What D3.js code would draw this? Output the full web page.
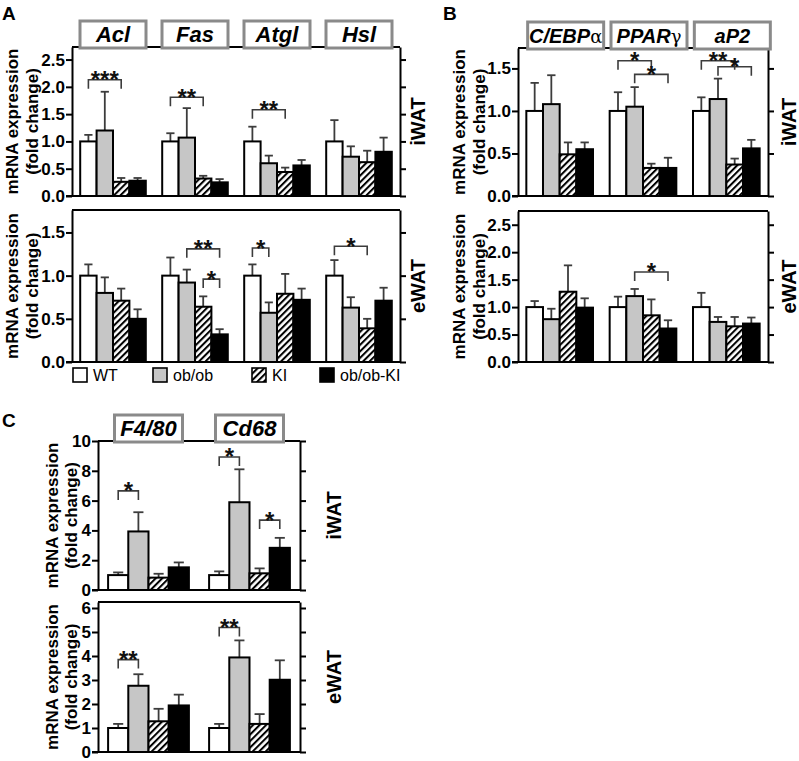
<!DOCTYPE html>
<html><head><meta charset="utf-8">
<script src="https://cdn.jsdelivr.net/npm/d3@7"></script>
<style>body{margin:0;background:#fff}svg{display:block;font-family:"Liberation Sans",Arial,sans-serif}</style>
</head><body>
<svg id="c" width="799" height="761"></svg>
<script>
// ---------------- DATA ----------------
const groups = ["WT", "ob/ob", "KI", "ob/ob-KI"];
const genesA = ["Acl", "Fas", "Atgl", "Hsl"];
const genesB = [["C/EBP", "α"], ["PPAR", "γ"], ["aP2", ""]];
const genesC = ["F4/80", "Cd68"];

const ticksAtop = [0, 0.5, 1.0, 1.5, 2.0, 2.5];
const ticksAbot = [0, 0.5, 1.0, 1.5];
const ticksBtop = [0, 0.5, 1.0, 1.5];
const ticksBbot = [0, 0.5, 1.0, 1.5, 2.0, 2.5];
const ticksCtop = [0, 2, 4, 6, 8, 10];
const ticksCbot = [0, 1, 2, 3, 4, 5, 6];

// means per gene: [WT, ob/ob, KI, ob/ob-KI]; err = top of error bar (mean + SEM)
const meanA_iWAT = [[1.00, 1.20, 0.26, 0.28], [1.00, 1.07, 0.32, 0.25], [1.00, 0.60, 0.44, 0.56], [1.00, 0.72, 0.62, 0.81]];
const errA_iWAT  = [[1.12, 1.91, 0.33, 0.33], [1.15, 1.61, 0.37, 0.31], [1.27, 0.74, 0.52, 0.66], [1.39, 0.91, 0.83, 1.07]];
const meanA_eWAT = [[1.00, 0.80, 0.71, 0.50], [1.00, 0.92, 0.64, 0.32], [1.00, 0.57, 0.79, 0.72], [1.00, 0.63, 0.39, 0.71]];
const errA_eWAT  = [[1.13, 0.98, 0.85, 0.61], [1.21, 1.07, 0.76, 0.38], [1.13, 0.69, 1.02, 0.85], [1.18, 0.75, 0.50, 0.86]];

const meanB_iWAT = [[1.00, 1.08, 0.49, 0.55], [1.00, 1.05, 0.33, 0.33], [1.00, 1.14, 0.37, 0.56]];
const errB_iWAT  = [[1.33, 1.42, 0.63, 0.63], [1.22, 1.28, 0.38, 0.45], [1.16, 1.38, 0.44, 0.66]];
const meanB_eWAT = [[1.00, 0.78, 1.28, 0.99], [1.00, 1.20, 0.85, 0.61], [1.00, 0.73, 0.65, 0.70]];
const errB_eWAT  = [[1.11, 0.97, 1.76, 1.16], [1.19, 1.33, 1.14, 0.76], [1.26, 0.82, 0.82, 0.81]];

const meanC_iWAT = [[1.00, 3.93, 0.83, 1.52], [1.00, 5.89, 1.12, 2.83]];
const errC_iWAT  = [[1.18, 5.22, 1.09, 1.85], [1.25, 8.10, 1.45, 3.50]];
const meanC_eWAT = [[1.00, 2.76, 1.28, 1.94], [1.00, 3.94, 1.17, 3.01]];
const errC_eWAT  = [[1.17, 3.24, 1.80, 2.39], [1.17, 4.65, 1.58, 3.82]];

// significance brackets: [gene index, from bar, to bar, level, label]
const sigA_iWAT = [[0, 0, 2, 2.13, "***"], [1, 0, 2, 1.81, "**"], [2, 0, 2, 1.58, "**"]];
const sigA_eWAT = [[1, 1, 3, 1.31, "**"], [1, 2, 3, 0.96, "*"], [2, 0, 1, 1.32, "*"], [3, 0, 2, 1.34, "*"]];
const sigB_iWAT = [[1, 0, 2, 1.59, "*"], [1, 1, 3, 1.43, "*"], [2, 0, 2, 1.59, "**"], [2, 1, 3, 1.52, "*"]];
const sigB_eWAT = [[1, 1, 3, 1.64, "*"]];
const sigC_iWAT = [[0, 0, 1, 6.65, "*"], [1, 0, 1, 8.93, "*"], [1, 2, 3, 4.69, "*"]];
const sigC_eWAT = [[0, 0, 1, 3.85, "**"], [1, 0, 1, 5.19, "**"]];

// ---------------- DRAW ----------------
const svg = d3.select("#c");
const defs = svg.append("defs");
const pat = defs.append("pattern").attr("id", "hatch").attr("patternUnits", "userSpaceOnUse")
  .attr("width", 4.6).attr("height", 4.6).attr("patternTransform", "rotate(45)");
pat.append("rect").attr("width", 4.6).attr("height", 4.6).attr("fill", "#fff");
pat.append("line").attr("x1", 1).attr("x2", 1).attr("y1", 0).attr("y2", 4.6)
  .attr("stroke", "#000").attr("stroke-width", 2.1);

const fills = ["#ffffff", "#c6c6c6", "url(#hatch)", "#000000"];
const ink = "#3c3c3c";

function panel(c) {
  const g = svg.append("g");
  const x = d3.scaleBand().domain(d3.range(c.genes.length)).range([c.x0, c.x1]).paddingInner(0.2).paddingOuter(0.1);
  const xi = d3.scaleBand().domain(d3.range(groups.length)).range([0, x.bandwidth()]);
  const y = d3.scaleLinear().domain([0, c.max]).range([c.yBot, c.yTop]);
  const bw = xi.bandwidth();

  g.append("line").attr("x1", c.x0).attr("x2", c.x1).attr("y1", c.yTop).attr("y2", c.yTop)
    .attr("stroke", "#000").attr("stroke-width", 2);

  c.genes.forEach((gn, gi) => {
    const gg = g.append("g").attr("transform", `translate(${x(gi)},0)`);
    c.means[gi].forEach((m, bi) => {
      const cx = xi(bi) + bw / 2;
      gg.append("line").attr("x1", cx).attr("x2", cx).attr("y1", y(m)).attr("y2", y(c.errs[gi][bi]))
        .attr("stroke", ink).attr("stroke-width", 1.8);
      gg.append("line").attr("x1", cx - bw * 0.25).attr("x2", cx + bw * 0.25)
        .attr("y1", y(c.errs[gi][bi])).attr("y2", y(c.errs[gi][bi]))
        .attr("stroke", ink).attr("stroke-width", 1.8);
    });
    gg.selectAll("rect.bar").data(c.means[gi]).join("rect").attr("class", "bar")
      .attr("x", (d, i) => xi(i)).attr("width", bw)
      .attr("y", d => y(d)).attr("height", d => y(0) - y(d))
      .attr("fill", (d, i) => fills[i]).attr("stroke", "#000").attr("stroke-width", 2);
  });

  c.sig.forEach(([gi, a, b, lvl, lab]) => {
    const xa = x(gi) + xi(a) + bw / 2, xb = x(gi) + xi(b) + bw / 2, yy = y(lvl);
    g.append("path").attr("d", `M${xa},${yy + 9}V${yy}H${xb}V${yy + 9}`)
      .attr("fill", "none").attr("stroke", ink).attr("stroke-width", 1.6);
    g.append("text").attr("x", (xa + xb) / 2).attr("y", yy + 8.5).attr("text-anchor", "middle")
      .attr("font-size", 24).attr("font-weight", "bold").attr("fill", "#111").text(lab);
  });

  const la = g.append("g").attr("transform", `translate(${c.x0},0)`)
    .call(d3.axisLeft(y).tickValues(c.ticks).tickFormat(c.fmt).tickSize(6).tickSizeOuter(0).tickPadding(1));
  const ra = g.append("g").attr("transform", `translate(${c.x1},0)`)
    .call(d3.axisRight(y).tickValues(c.ticks).tickFormat("").tickSize(6).tickSizeOuter(0));
  [la, ra].forEach(a => {
    a.selectAll("path,line").attr("stroke", "#000").attr("stroke-width", 2);
    a.selectAll("text").attr("font-size", 17).attr("font-weight", "bold").attr("fill", "#000")
      .attr("font-family", "Liberation Sans, Arial, sans-serif");
  });
  g.append("line").attr("x1", c.x0 - 6).attr("x2", c.x1).attr("y1", c.yBot).attr("y2", c.yBot)
    .attr("stroke", "#000").attr("stroke-width", 2);

  if (c.boxes) {
    c.genes.forEach((gn, gi) => {
      const cx = x(gi) + x.bandwidth() / 2 + c.boxOff;
      g.append("rect").attr("x", cx - c.boxW / 2).attr("y", c.yTop - 26).attr("width", c.boxW).attr("height", 27)
        .attr("fill", "#fff").attr("stroke", "#8a8a8a").attr("stroke-width", 3);
      const t = g.append("text").attr("x", cx).attr("y", c.yTop - 5).attr("text-anchor", "middle")
        .attr("font-size", c.gfs).attr("font-weight", "bold").attr("font-style", "italic").attr("fill", "#000");
      if (Array.isArray(gn)) {
        t.append("tspan").text(gn[0]);
        if (gn[1]) t.append("tspan").attr("font-style", "normal").attr("font-weight", "normal")
          .attr("font-family", "DejaVu Serif, serif").attr("font-size", 18).text(gn[1]);
      } else t.text(gn);
    });
  }

  const ym = (c.yTop + c.yBot) / 2;
  [[c.t1, "mRNA expression"], [c.t2, "(fold change)"]].forEach(([tx, s]) => {
    g.append("text").attr("transform", `translate(${tx},${ym}) rotate(-90)`).attr("dy", "0.35em")
      .attr("text-anchor", "middle").attr("font-size", 17).attr("font-weight", "bold").text(s);
  });
  g.append("text").attr("transform", `translate(${c.tx},${ym}) rotate(-90)`).attr("dy", "0.35em")
    .attr("text-anchor", "middle").attr("font-size", 20).attr("font-weight", "bold").text(c.tissue);
}

const f1 = d3.format(".1f"), f0 = d3.format("d");

panel({x0: 72, x1: 400, yTop: 47, yBot: 196, max: 2.73, ticks: ticksAtop, fmt: f1, genes: genesA,
  means: meanA_iWAT, errs: errA_iWAT, sig: sigA_iWAT, boxes: true, boxW: 66, boxOff: 0, gfs: 22,
  tissue: "iWAT", tx: 418, t1: 12, t2: 32});
panel({x0: 72, x1: 400, yTop: 210, yBot: 362, max: 1.76, ticks: ticksAbot, fmt: f1, genes: genesA,
  means: meanA_eWAT, errs: errA_eWAT, sig: sigA_eWAT, boxes: false,
  tissue: "eWAT", tx: 418, t1: 12, t2: 32});
panel({x0: 518, x1: 768, yTop: 48, yBot: 196, max: 1.74, ticks: ticksBtop, fmt: f1, genes: genesB,
  means: meanB_iWAT, errs: errB_iWAT, sig: sigB_iWAT, boxes: true, boxW: 76, boxOff: 6, gfs: 20,
  tissue: "iWAT", tx: 789, t1: 459, t2: 479});
panel({x0: 518, x1: 768, yTop: 211, yBot: 362, max: 2.75, ticks: ticksBbot, fmt: f1, genes: genesB,
  means: meanB_eWAT, errs: errB_eWAT, sig: sigB_eWAT, boxes: false,
  tissue: "eWAT", tx: 789, t1: 459, t2: 479});
panel({x0: 98, x1: 300, yTop: 441, yBot: 590, max: 10, ticks: ticksCtop, fmt: f0, genes: genesC,
  means: meanC_iWAT, errs: errC_iWAT, sig: sigC_iWAT, boxes: true, boxW: 68, boxOff: 0, gfs: 22,
  tissue: "iWAT", tx: 334, t1: 52, t2: 71});
panel({x0: 98, x1: 300, yTop: 602, yBot: 752, max: 6.25, ticks: ticksCbot, fmt: f0, genes: genesC,
  means: meanC_eWAT, errs: errC_eWAT, sig: sigC_eWAT, boxes: false,
  tissue: "eWAT", tx: 334, t1: 52, t2: 71});

const legX = [73, 153, 252, 320];
groups.forEach((gname, i) => {
  svg.append("rect").attr("x", legX[i]).attr("y", 368).attr("width", 14).attr("height", 14)
    .attr("fill", fills[i]).attr("stroke", "#000").attr("stroke-width", 1.6);
  svg.append("text").attr("x", legX[i] + 20).attr("y", 381).attr("font-size", 16).attr("fill", "#000").text(gname);
});

[["A", 2, 20], ["B", 443, 20], ["C", 2, 427]].forEach(([s, px, py]) => {
  svg.append("text").attr("x", px).attr("y", py).attr("font-size", 19).attr("font-weight", "bold").text(s);
});
</script>
</body></html>
